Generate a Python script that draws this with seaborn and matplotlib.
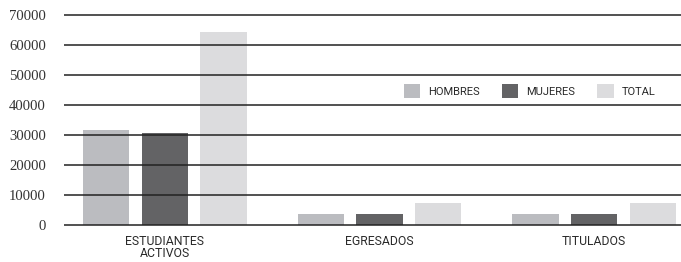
import matplotlib
matplotlib.use("Agg")
import matplotlib.pyplot as plt
import matplotlib.transforms as mtrans
import seaborn as sns
import pandas as pd
from matplotlib.patches import Patch

categories = ["ESTUDIANTES\nACTIVOS", "EGRESADOS", "TITULADOS"]
series = ["HOMBRES", "MUJERES", "TOTAL"]
hombres = [31700, 3700, 3700]
mujeres = [30700, 3700, 3700]
total = [64400, 7300, 7300]
yticks = [0, 10000, 20000, 30000, 40000, 50000, 60000, 70000]
colors = ["#bbbcc0", "#636365", "#dcdcde"]

rows = []
for i, c in enumerate(categories):
    for s, vals in zip(series, [hombres, mujeres, total]):
        rows.append({"cat": c, "serie": s, "valor": vals[i]})
df = pd.DataFrame(rows)

sns.set_style("white")
fig = plt.figure(figsize=(6.81, 2.62), dpi=100)
W, H = 681, 262
y0px, y1px = 226.5, 13.5
ax = fig.add_axes([64 / W, (H - y0px) / H, 1 - 64 / W, (y0px - y1px) / H])

sns.barplot(data=df, x="cat", y="valor", hue="serie", palette=colors,
            width=0.82, gap=0.21, ax=ax, legend=False, zorder=1,
            saturation=1, edgecolor="none", linewidth=0)

ax.set_xlim(-0.47, 2.405)
ax.set_ylim(-500, 70500)
ax.set_yticks(yticks)
ax.set_yticklabels([str(v) for v in yticks], family="Liberation Serif",
                   fontsize=10.6, color="#333333")
off = mtrans.ScaledTranslation(0, -3 / 100, fig.dpi_scale_trans)
for lbl in ax.get_yticklabels():
    lbl.set_transform(lbl.get_transform() + off)
ax.set_axisbelow(False)
ax.yaxis.grid(True, color="#222222", linewidth=1.1, zorder=3)
ax.xaxis.grid(False)
for sp in ax.spines.values():
    sp.set_visible(False)
ax.tick_params(axis="y", length=0, pad=13)
ax.tick_params(axis="x", length=0, pad=6)
for lbl in ax.get_xticklabels():
    lbl.set_family(["Roboto", "DejaVu Sans"])
    lbl.set_fontsize(8.8)
    lbl.set_color("#2a2a2a")
    lbl.set_linespacing(0.9)
ax.set_xlabel("")
ax.set_ylabel("")

handles = [Patch(facecolor=c, edgecolor="none") for c in colors]
leg = ax.legend(handles, series, loc="center left",
                bbox_to_anchor=((404 - 64) / (W - 64), (y0px - 91) / (y0px - y1px)),
                ncol=3, frameon=False, handlelength=1.45, handleheight=1.45,
                columnspacing=2.0, handletextpad=0.72, borderpad=0, borderaxespad=0,
                prop={"family": ["Roboto", "DejaVu Sans"], "size": 8})
for t in leg.get_texts():
    t.set_color("#2a2a2a")

fig.savefig("out.png", dpi=100)
